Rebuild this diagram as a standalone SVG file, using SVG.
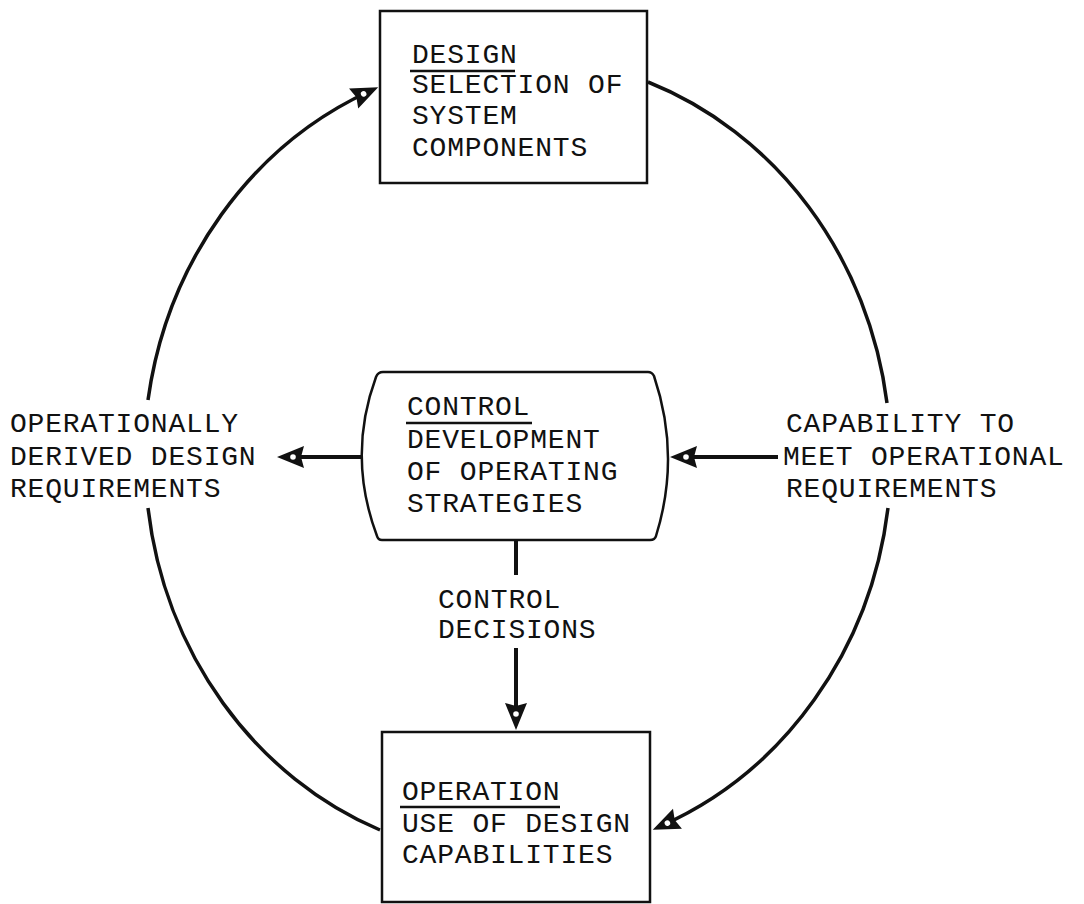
<svg xmlns="http://www.w3.org/2000/svg" width="1084" height="904" viewBox="0 0 1084 904">
  <style>
    .box { fill: #fff; stroke: #111; stroke-width: 2.5; }
    .txt { font-family: "Liberation Mono", "Courier New", monospace; font-size: 28px; letter-spacing: 0.8px; fill: #111; }
    .rule { stroke: #111; stroke-width: 2.5; }
    .loop { fill: none; stroke: #111; stroke-width: 3.5; }
    .flow { fill: none; stroke: #111; stroke-width: 4; }
  </style>
  <defs>
    <!-- filled typewriter-style arrowhead with a small pale eye -->
    <marker id="head" viewBox="-20 -13 30 26" refX="0" refY="0" markerWidth="30" markerHeight="26" markerUnits="userSpaceOnUse" orient="auto">
      <path d="M9,0 L-18,-11 L-15,0 L-18,11 Z" fill="#111"/>
      <circle cx="-7" cy="0" r="2.8" fill="#fff"/>
    </marker>
  </defs>
  <rect width="1084" height="904" fill="#fff"/>

  <!-- outer design/operation loop and the straight flows -->
  <g id="connectors">
    <path class="loop" d="M148,400 A372,400 0 0 1 370,91" marker-end="url(#head)"/>
    <path class="loop" d="M648,82 A372,400 0 0 1 887,403"/>
    <path class="loop" d="M888,508 A372,400 0 0 1 661,826" marker-end="url(#head)"/>
    <path class="loop" d="M148,508 A372,400 0 0 0 380,830"/>
    <path class="flow" d="M362,457 L286,457" marker-end="url(#head)"/>
    <path class="flow" d="M778,457 L679,457" marker-end="url(#head)"/>
    <path class="flow" d="M516,540 L516,575"/>
    <path class="flow" d="M516,648 L516,721" marker-end="url(#head)"/>
  </g>

  <g id="design">
    <rect class="box" x="380" y="11" width="267" height="172"/>
    <text class="txt" x="412" y="63">DESIGN</text>
    <line class="rule" x1="410" y1="71" x2="515" y2="71"/>
    <text class="txt" x="412" y="93">SELECTION OF</text>
    <text class="txt" x="412" y="124">SYSTEM</text>
    <text class="txt" x="412" y="156">COMPONENTS</text>
  </g>

  <g id="control">
    <path class="box" d="M383,372 L648,372 Q652,372 654,376 Q681,456 656,536 Q655,540 650,540 L382,540 Q378,540 377,536 Q347,456 376,377 Q378,372 383,372 Z"/>
    <text class="txt" x="407" y="415">CONTROL</text>
    <line class="rule" x1="406" y1="423" x2="532" y2="423"/>
    <text class="txt" x="407" y="448">DEVELOPMENT</text>
    <text class="txt" x="407" y="480">OF OPERATING</text>
    <text class="txt" x="407" y="512">STRATEGIES</text>
  </g>

  <g id="operation">
    <rect class="box" x="382" y="732" width="268" height="170"/>
    <text class="txt" x="402" y="800">OPERATION</text>
    <line class="rule" x1="400" y1="807" x2="560" y2="807"/>
    <text class="txt" x="402" y="832">USE OF DESIGN</text>
    <text class="txt" x="402" y="863">CAPABILITIES</text>
  </g>

  <g id="label-requirements">
    <text class="txt" x="10" y="432">OPERATIONALLY</text>
    <text class="txt" x="10" y="465">DERIVED DESIGN</text>
    <text class="txt" x="10" y="497">REQUIREMENTS</text>
  </g>

  <g id="label-capability">
    <text class="txt" x="786" y="432">CAPABILITY TO</text>
    <text class="txt" x="783" y="465">MEET OPERATIONAL</text>
    <text class="txt" x="786" y="497">REQUIREMENTS</text>
  </g>

  <g id="label-decisions">
    <text class="txt" x="438" y="608">CONTROL</text>
    <text class="txt" x="438" y="638">DECISIONS</text>
  </g>
</svg>
